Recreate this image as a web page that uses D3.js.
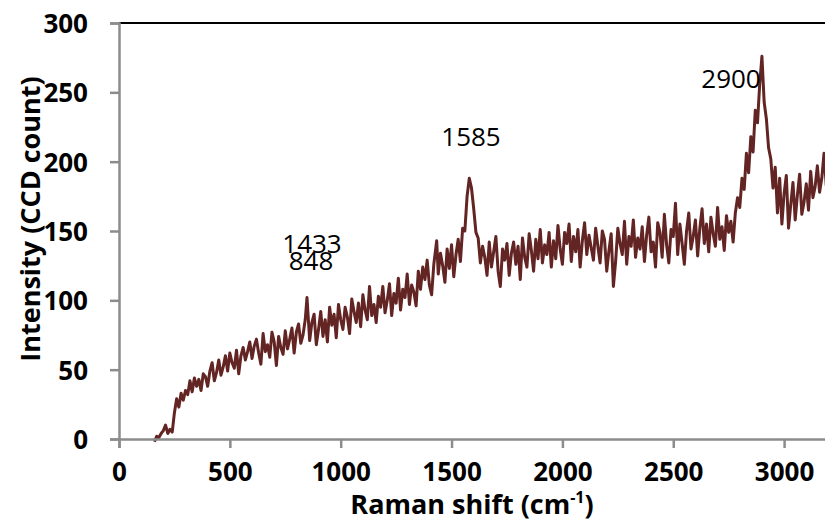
<!DOCTYPE html>
<html>
<head>
<meta charset="utf-8">
<script src="https://cdn.jsdelivr.net/npm/d3@7"></script>
<style>
  body { margin: 0; background: #fff; }
  .TickLabel { font-family: "Open Sans", sans-serif; font-weight: 700; font-size: 26px; fill: #000; }
  .AxisLabel { font-family: "Open Sans", sans-serif; font-weight: 700; font-size: 27px; fill: #000; }
  .PeakLabel { font-family: "Open Sans", sans-serif; font-weight: 400; font-size: 26px; fill: #000; }
</style>
</head>
<body>
<div id="ChartContainer"></div>
<script>
// Raman shift (cm-1) sampling points
var ramanShift = [
  160, 170, 180, 190, 200, 210, 220, 230, 240, 250, 260, 270, 280, 290, 300, 310, 320, 330, 340, 350,
  360, 370, 380, 390, 400, 410, 420, 430, 440, 450, 460, 470, 480, 490, 500, 510, 520, 530, 540, 550,
  560, 570, 580, 590, 600, 610, 620, 630, 640, 650, 660, 670, 680, 690, 700, 710, 720, 730, 740, 750,
  760, 770, 780, 790, 800, 810, 820, 830, 840, 848, 860, 870, 880, 890, 900, 910, 920, 930, 940, 950,
  960, 970, 980, 990, 1000, 1010, 1020, 1030, 1040, 1050, 1060, 1070, 1080, 1090, 1100, 1110, 1120, 1130, 1140, 1150,
  1160, 1170, 1180, 1190, 1200, 1210, 1220, 1230, 1240, 1250, 1260, 1270, 1280, 1290, 1300, 1310, 1320, 1330, 1340, 1350,
  1360, 1370, 1380, 1390, 1400, 1410, 1420, 1433, 1440, 1450, 1460, 1470, 1480, 1490, 1500, 1510, 1520, 1530, 1540, 1550,
  1560, 1570, 1580, 1590, 1600, 1610, 1620, 1630, 1640, 1650, 1660, 1670, 1680, 1690, 1700, 1710, 1720, 1730, 1740, 1750,
  1760, 1770, 1780, 1790, 1800, 1810, 1820, 1830, 1840, 1850, 1860, 1870, 1880, 1890, 1900, 1910, 1920, 1930, 1940, 1950,
  1960, 1970, 1980, 1990, 2000, 2010, 2020, 2030, 2040, 2050, 2060, 2070, 2080, 2090, 2100, 2110, 2120, 2130, 2140, 2150,
  2160, 2170, 2180, 2190, 2200, 2210, 2220, 2230, 2240, 2250, 2260, 2270, 2280, 2290, 2300, 2310, 2320, 2330, 2340, 2350,
  2360, 2370, 2380, 2390, 2400, 2410, 2420, 2430, 2440, 2450, 2460, 2470, 2480, 2490, 2500, 2510, 2520, 2530, 2540, 2550,
  2560, 2570, 2580, 2590, 2600, 2610, 2620, 2630, 2640, 2650, 2660, 2670, 2680, 2690, 2700, 2710, 2720, 2730, 2740, 2750,
  2760, 2770, 2780, 2790, 2800, 2810, 2820, 2830, 2840, 2850, 2860, 2870, 2880, 2890, 2900, 2910, 2920, 2930, 2940, 2950,
  2960, 2970, 2980, 2990, 3000, 3010, 3020, 3030, 3040, 3050, 3060, 3070, 3080, 3090, 3100, 3110, 3120, 3130, 3140, 3150,
  3160, 3170, 3180, 3190, 3200
]

// Intensity (CCD count)
var intensity = [
  -2, 2, 1, 4, 6, 10, 4, 7, 5, 19, 29, 23, 33, 28, 35, 32, 42, 34, 44, 38,
  43, 35, 47, 45, 38, 49, 55, 42, 48, 57, 46, 52, 60, 49, 62, 55, 51, 64, 47, 60,
  66, 57, 63, 70, 58, 67, 72, 62, 54, 76, 63, 68, 59, 77, 70, 53, 74, 66, 61, 78,
  65, 72, 80, 62, 77, 83, 69, 75, 86, 102, 71, 84, 90, 68, 79, 92, 74, 86, 70, 95,
  82, 90, 73, 97, 86, 79, 95, 88, 76, 101, 92, 84, 98, 81, 104, 93, 86, 110, 89, 97,
  84, 103, 95, 110, 91, 100, 112, 89, 105, 98, 116, 93, 108, 102, 119, 97, 111, 106, 96, 121,
  108, 124, 115, 129, 111, 104, 126, 143, 119, 134, 125, 113, 137, 123, 140, 117, 133, 144, 128, 152,
  150, 175, 188, 181, 166, 149, 145, 127, 139, 131, 118, 142, 124, 135, 146, 121, 110, 137, 129, 141,
  118, 134, 142, 126, 139, 115, 145, 131, 124, 148, 136, 121, 144, 130, 151, 127, 140, 133, 149, 124,
  143, 130, 154, 137, 126, 149, 141, 155, 128, 146, 135, 151, 124, 143, 156, 133, 147, 138, 129, 152,
  139, 127, 150, 144, 121, 136, 148, 110, 128, 152, 141, 133, 157, 126, 146, 139, 158, 131, 145, 137,
  153, 128, 147, 160, 135, 142, 124, 156, 149, 131, 162, 140, 127, 151, 146, 170, 133, 155, 141, 126,
  150, 163, 137, 146, 158, 132, 152, 166, 141, 155, 135, 160, 148, 139, 167, 144, 153, 136, 161, 149,
  157, 142, 163, 174, 167, 188, 180, 206, 192, 218, 207, 237, 228, 256, 276, 243, 231, 210, 202, 181,
  196, 163, 188, 155, 177, 190, 152, 169, 185, 158, 176, 191, 162, 171, 184, 165, 193, 174, 182, 197,
  178, 188, 206, 183, 204
]

var peaks = [
  { label: "1433", x: 312, y: 253 },
  { label: "848", x: 311, y: 270 },
  { label: "1585", x: 471, y: 146 },
  { label: "2900", x: 731, y: 88 }
]

var xTicks = [0, 500, 1000, 1500, 2000, 2500, 3000, 3500]
var yTicks = [0, 50, 100, 150, 200, 250, 300]

var fullWidth = 825
var fullHeight = 520
var plotLeft = 119
var plotTop = 23
var plotBottom = 439
var plotRight = 119 + 3500 * 0.2217

var svg = d3.select("#ChartContainer").append("svg")
  .attr("width", fullWidth)
  .attr("height", fullHeight)
  .style("display", "block")

var x = d3.scaleLinear()
  .domain([0, 3500])
  .range([plotLeft, plotRight])
var y = d3.scaleLinear()
  .domain([0, 300])
  .range([plotBottom, plotTop])

var data = ramanShift.map((s, i) => ({ shift: s, value: intensity[i] }))

// top border of plot area
svg.append("line")
  .attr("x1", plotLeft)
  .attr("x2", plotRight)
  .attr("y1", plotTop)
  .attr("y2", plotTop)
  .attr("stroke", "#000")
  .attr("stroke-width", 2)

// spectrum
svg.append("path")
  .datum(data)
  .attr("fill", "none")
  .attr("stroke", "#632523")
  .attr("stroke-width", 3)
  .attr("stroke-linejoin", "round")
  .attr("d", d3.line()
    .x(d => x(d.shift))
    .y(d => y(d.value))
  )

// y-axis
var yAxis = svg.append("g")
  .attr("transform", `translate(${plotLeft},0)`)
  .call(d3.axisLeft(y)
    .tickValues(yTicks)
    .tickFormat(d3.format("d"))
    .tickSize(9)
    .tickPadding(22)
  )

// x-axis
var xAxis = svg.append("g")
  .attr("transform", `translate(0,${plotBottom})`)
  .call(d3.axisBottom(x)
    .tickValues(xTicks)
    .tickFormat(d3.format("d"))
    .tickSize(9)
    .tickPadding(14)
  )

svg.selectAll(".domain, .tick line")
  .attr("stroke", "#8c8c8c")
  .attr("stroke-width", 2.5)
svg.selectAll(".tick text")
  .attr("class", "TickLabel")
  .attr("font-family", null)
  .attr("font-size", null)
yAxis.selectAll(".tick text").attr("dy", "0.36em")
xAxis.selectAll(".tick text").attr("dy", "0.74em")

// axis labels
var xLabel = svg.append("text")
  .attr("class", "AxisLabel")
  .attr("x", 472)
  .attr("y", 514)
  .attr("text-anchor", "middle")
xLabel.append("tspan").text("Raman shift (cm")
xLabel.append("tspan")
  .attr("font-size", "16px")
  .attr("dy", "-11")
  .text("-1")
xLabel.append("tspan")
  .attr("dy", "11")
  .text(")")

svg.append("text")
  .attr("class", "AxisLabel")
  .attr("transform", "rotate(-90)")
  .attr("x", -219)
  .attr("y", 40)
  .attr("text-anchor", "middle")
  .text("Intensity (CCD count)")

// peak annotations
svg.selectAll(".PeakLabel")
  .data(peaks)
  .enter().append("text")
  .attr("class", "PeakLabel")
  .attr("x", d => d.x)
  .attr("y", d => d.y)
  .attr("text-anchor", "middle")
  .text(d => d.label)
</script>
</body>
</html>
